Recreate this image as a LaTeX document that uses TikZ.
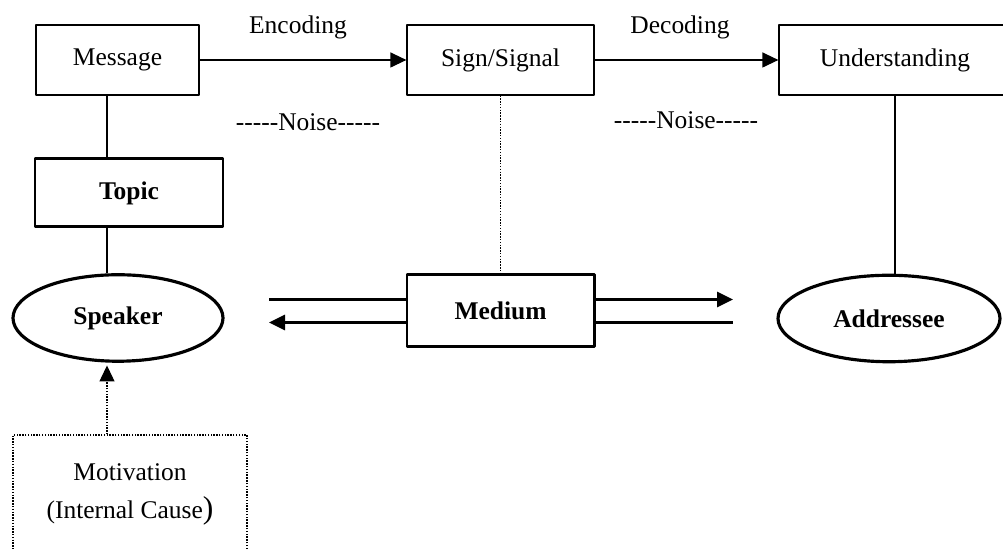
\documentclass[tikz,border=0pt]{standalone}
\usepackage{fontspec}
\setmainfont{Liberation Serif}
\usetikzlibrary{arrows.meta,shapes.geometric}
\newcommand\txt{\fontsize{14.5}{17}\selectfont}
\tikzset{
  box/.style={draw,line width=0.7pt,minimum width=#1,minimum height=1.4cm,inner sep=0pt},
  bbox/.style={draw,line width=1.7pt,minimum width=#1,inner sep=0pt,font=\txt\bfseries},
  oval/.style={draw,ellipse,line width=1.8pt,minimum width=#1,minimum height=1.73cm,inner sep=0pt,font=\txt\bfseries},
  dots/.style={line width=0.7pt,dash pattern=on 0.8pt off 0.8pt},
  tip/.style={-{Triangle[length=3.2mm,width=3mm]}}
}
\begin{document}
\begin{tikzpicture}[line join=round,font=\txt]
\useasboundingbox (0,0) rectangle (20.06,10.98);
% top row
\node[box=3.26cm] (msg) at (2.35,9.78) {Message};
\node[box=3.74cm] (sign) at (10.01,9.78) {Sign/Signal};
\node[box=4.64cm] (und) at (17.9,9.78) {Understanding};
% lower row
\node[bbox=3.76cm,minimum height=1.36cm] (topic) at (2.58,7.12) {Topic};
\node[oval=4.2cm] (spk) at (2.36,4.62) {Speaker};
\node[bbox=3.74cm,minimum height=1.44cm] (med) at (10.01,4.76) {Medium};
\node[oval=4.44cm] (addr) at (17.78,4.61) {Addressee};
\node[draw,dots,minimum width=4.68cm,minimum height=2.38cm,align=center,
  font=\fontsize{14.5}{21.5}\selectfont] (mot) at (2.6,1.09)
  {Motivation\\(Internal Cause{\fontsize{18}{18}\selectfont)}};
\coordinate (ax) at (2.14,0);
\coordinate (L) at (5.38,0);
\coordinate (R) at (14.66,0);
% labels
\foreach \p/\t in {{(5.96,10.44)}/Encoding,{(13.6,10.44)}/Decoding,
  {(6.16,8.54)}/-{}-{}-{}-{}-Noise-{}-{}-{}-{}-,{(13.72,8.58)}/-{}-{}-{}-{}-Noise-{}-{}-{}-{}-}
  {\node at \p {\t};}
% connectors
\draw[tip,line width=0.7pt] (msg) -- (sign);
\draw[tip,line width=0.7pt] (sign) -- (und);
\draw[line width=0.7pt] (msg.south -| ax) -- (topic.north -| ax);
\draw[line width=1.7pt] (topic.south -| ax) -- (spk.north -| ax);
\draw[dots] (sign.south) -- (med.north);
\draw[line width=0.7pt] (und.south) -- (und.south |- addr.north);
\draw[dots,tip] (mot.north -| ax) -- ([yshift=-1.5pt]spk.south -| ax);
\draw[line width=1.7pt] ([yshift=.23cm]med.west) -- ([yshift=.23cm]med.west -| L);
\draw[line width=1.7pt,tip] ([yshift=-.23cm]med.west) -- ([yshift=-.23cm]med.west -| L);
\draw[line width=1.7pt,tip] ([yshift=.23cm]med.east) -- ([yshift=.23cm]med.east -| R);
\draw[line width=1.7pt] ([yshift=-.23cm]med.east) -- ([yshift=-.23cm]med.east -| R);
\end{tikzpicture}
\end{document}
